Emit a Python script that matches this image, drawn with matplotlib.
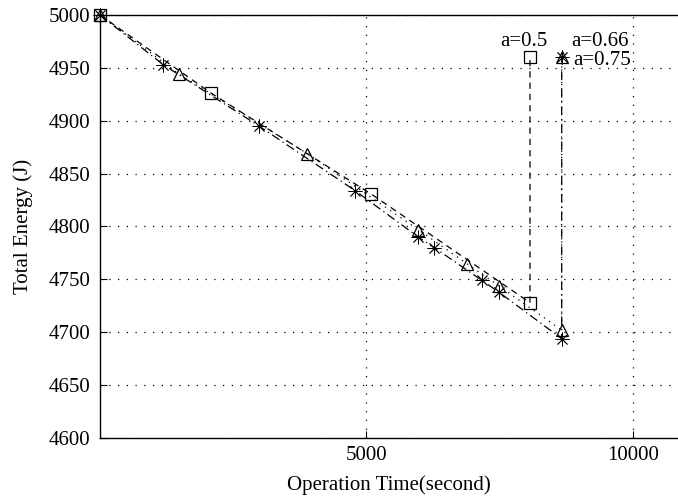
import matplotlib.pyplot as plt

plt.rcParams['font.family'] = ['Liberation Serif', 'DejaVu Serif']

# a = 0.5 (squares)
sq_x = [0, 2089, 5081, 8071]
sq_y = [5000, 4926, 4831, 4728]
# a = 0.66 (triangles)
tri_x = [0, 1488, 3891, 5975, 6881, 7484, 8666]
tri_y = [5000, 4944, 4869, 4797, 4765, 4744, 4702]
# a = 0.75 (stars)
st_x = [0, 1188, 2984, 4786, 5975, 6275, 7170, 7484, 8666]
st_y = [5000, 4953, 4895, 4834, 4790, 4780, 4749, 4738, 4694]

label_y = 4960
labels = ['a=0.5', 'a=0.66', 'a=0.75']

x_ticks = [5000, 10000]
y_ticks = list(range(4600, 5001, 50))

fig = plt.figure(figsize=(6.78, 5), dpi=100)
ax = fig.add_axes([100 / 678, 62 / 500, 578 / 678, 423 / 500])

star = (8, 2, 0)
series = [
    (sq_x, sq_y, 's', (0, (5, 4)), 8, 0.9),
    (tri_x, tri_y, '^', (0, (1, 4)), 9, 0.9),
    (st_x, st_y, star, (0, (7, 3, 1, 3)), 10, 0.6),
]
for xs, ys, mk, ls, ms, mw in series:
    ax.plot(xs + [xs[-1]], ys + [label_y], color='black', lw=0.9, ls=ls)
    ax.plot(xs + [xs[-1]], ys + [label_y], color='black', lw=0, marker=mk,
            ms=ms, mfc='none', mec='black', mew=mw, clip_on=False)

ax.text(7507, 4975, labels[0], fontsize=15, ha='left', va='center')
ax.text(8841, 4975, labels[1], fontsize=15, ha='left', va='center')
ax.text(8878, 4957, labels[2], fontsize=15, ha='left', va='center')

ax.set_xlim(0, 10849)
ax.set_ylim(4600, 5000)
ax.set_xticks(x_ticks)
ax.set_yticks(y_ticks)
ax.tick_params(direction='in', labelsize=15, top=False, right=False, length=5)
ax.tick_params(axis='y', pad=7)
ax.tick_params(axis='x', pad=6)
ax.grid(True, color='black', ls=(0, (1, 6)), lw=0.9)
ax.spines['right'].set_visible(False)
for s in ['left', 'bottom', 'top']:
    ax.spines[s].set_linewidth(1.0)

ax.set_xlabel('Operation Time(second)', fontsize=15, labelpad=7)
ax.set_ylabel('Total Energy (J)', fontsize=15, labelpad=11)

fig.savefig('out.png', dpi=100)
